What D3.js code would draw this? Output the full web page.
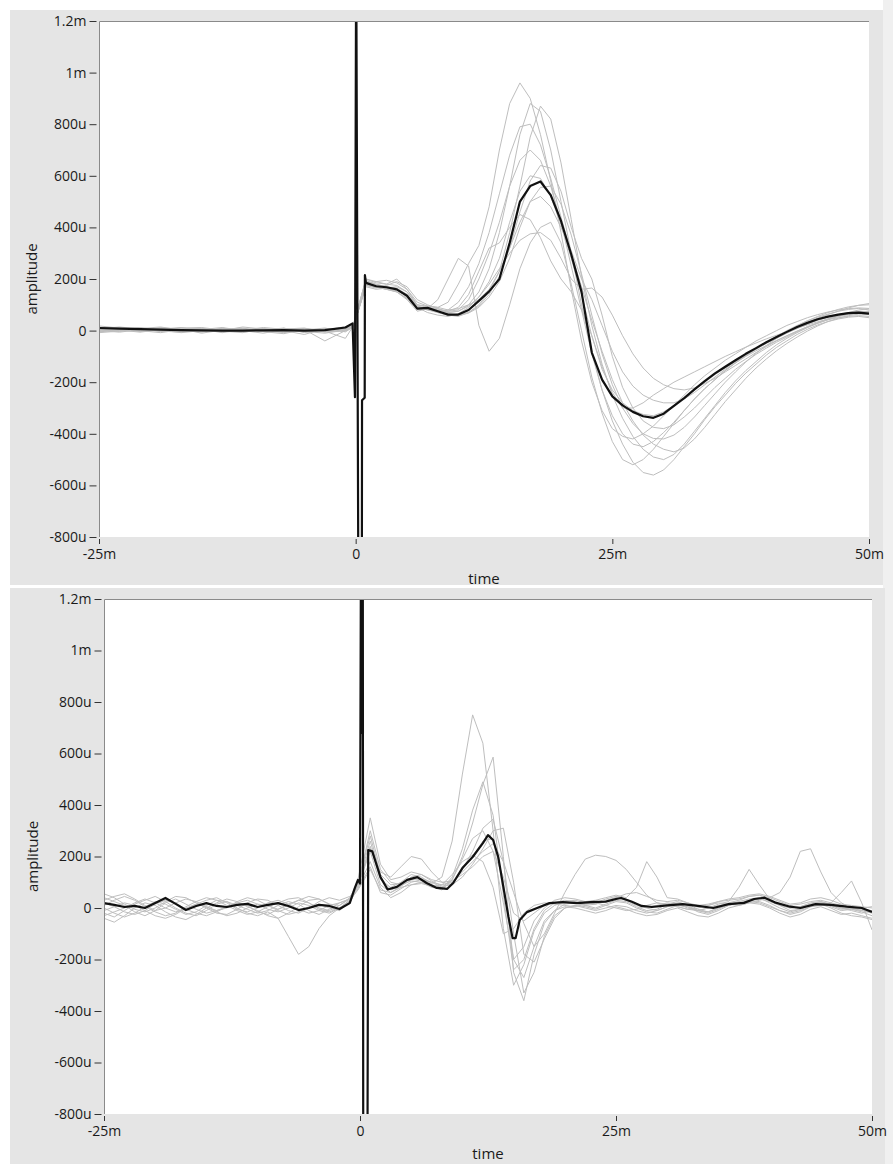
<!DOCTYPE html>
<html lang="en">
<head>
<meta charset="UTF-8">
<script src="https://d3js.org/d3.v7.min.js"></script>
<style>
  body { margin: 0; background: #fff; }
  svg text { font-family: "Open Sans", sans-serif; font-size: 14px; fill: #1a1a1a; }
  svg text.title { font-size: 15px; }
</style>
</head>
<body>
<script>
// ---- data (time in ms, amplitude in uV) ----
const yTicks = [-800, -600, -400, -200, 0, 200, 400, 600, 800, 1000, 1200];
const xTicks = [-25, 0, 25, 50];

// top panel: shared time grid of the single sweeps
const topGrid = [-25,-23,-21,-19,-17,-15,-13,-11,-9,-7,-5,-3,-1,-0.2,
  1,2,3,4,5,6,7,8,9,10,11,12,13,14,15,16,17,18,19,20,21,22,23,24,25,
  26,27,28,29,30,31,32,33,34,35,36,37,38,39,40,41,42,43,44,45,46,47,48,49,50];

const topSweepA = [12,8,3,10,-2,5,-8,4,-3,9,-6,2,15,25,
  200,185,180,175,150,100,95,90,110,180, 260,330,480,700,880,960,900,760,580,380,
  160,-40,-200,-310,-380,-410,-420,-400,-370,-330, -290,-250,-210,-175,-145,-115,-90,-65,-40,-20,
  0,20,35,50,62,72,80,85,88,86];
const topSweepB = [-5,3,10,0,6,-10,2,8,-4,-12,5,-2,-30,20,
  175,165,175,190,170,120,100,85,70,75, 100,150,240,380,560,760,880,850,700,500,
  300,100,-80,-230,-350,-440,-510,-550,-560,-540, -500,-450,-400,-345,-295,-250,-205,-165,-130,-95,
  -65,-40,-15,5,22,35,45,52,55,50];
const topSweepC = [5,-3,8,14,2,-6,10,-2,6,0,-15,8,4,22,
  190,180,170,165,140,90,80,70,60,55, 70,100,150,230,380,560,750,870,820,650,
  430,210,20,-130,-250,-340,-410,-460,-490,-500, -480,-440,-390,-340,-290,-240,-195,-155,-120,-85,
  -55,-30,-8,12,30,45,58,68,72,70];
const topSweepD = [18,10,-4,6,12,-2,0,14,6,-8,2,10,-5,15,
  180,175,165,150,125,80,90,85,75,80, 120,200,300,420,560,660,700,660,560,420,
  250,80,-90,-230,-330,-400,-440,-450,-430,-395, -355,-310,-265,-225,-190,-155,-125,-95,-70,-45,
  -22,0,20,38,52,64,75,82,86,80];
const topSweepE = [-2,6,0,-8,4,10,-4,2,12,5,-3,-10,2,18,
  170,160,165,170,150,95,85,75,65,60, 70,95,140,210,320,460,580,640,630,540,
  400,280,200,60,-100,-220,-300,-350,-375,-380, -365,-335,-300,-260,-220,-185,-150,-120,-92,-68,
  -45,-25,-5,12,28,42,55,65,72,75];
const topSweepF = [8,14,6,-2,-6,4,12,0,-10,4,8,0,10,28,
  195,178,170,160,130,85,90,80,70,75, 95,130,190,280,420,540,600,590,520,410,
  280,140,-20,-150,-230,-280,-310,-325,-330,-315, -290,-260,-230,-200,-170,-145,-120,-95,-72,-50,
  -30,-10,8,25,40,52,62,70,75,74];
const topSweepG = [0,-6,4,8,-4,2,6,-6,2,10,-8,4,6,20,
  185,190,195,185,160,110,95,90,80,85, 100,120,160,230,320,420,500,520,480,400,
  310,200,120,20,-80,-160,-215,-250,-270,-280, -280,-265,-240,-210,-180,-150,-125,-100,-78,-58,
  -38,-20,-2,15,30,45,58,70,80,85];
const topSweepH = [10,2,-6,4,10,6,-2,-8,8,2,4,-40,0,18,
  175,170,160,150,120,75,85,120,200,280, 250,20,-80,-30,100,240,340,400,420,340,
  180,0,-180,-320,-430,-500,-520,-500,-460,-410, -360,-310,-265,-225,-190,-155,-125,-98,-72,-48,
  -25,-5,15,32,48,62,75,88,98,105];
const topSweepI = [-4,8,12,2,-8,0,4,10,-4,-6,6,2,12,24,
  190,170,160,150,125,90,70,60,55,65, 90,130,180,240,300,350,375,380,350,280,
  200,160,165,130,60,-20,-90,-145,-185,-210, -225,-230,-222,-205,-185,-160,-135,-110,-85,-62,
  -40,-20,-2,15,30,42,50,55,58,55];
const topSweepJ = [6,0,-2,12,4,-4,8,2,-2,6,10,-6,8,22,
  200,190,180,200,160,100,90,80,75,90, 140,230,320,340,400,450,430,360,270,200,
  150,80,-20,-140,-240,-300,-300,-280,-250,-225, -200,-180,-160,-140,-120,-100,-82,-64,-48,-32,
  -18,-4,10,22,34,45,55,62,66,65];
const topSweepK = [2,10,6,-4,0,8,-6,6,4,-2,0,6,3,16,
  180,172,168,160,140,95,80,75,80,110, 170,260,380,530,680,790,800,720,590,440,
  300,170,40,-80,-190,-280,-350,-405,-440,-460, -470,-455,-420,-375,-325,-275,-230,-185,-145,-110,
  -78,-50,-25,-2,18,35,48,58,64,62];
const topSweepL = [-8,-2,6,0,10,12,2,-4,0,8,4,-4,-2,14,
  178,168,160,155,135,90,85,70,60,58, 68,90,130,190,280,400,500,555,560,490,
  370,220,60,-90,-210,-300,-360,-400,-418,-420, -405,-375,-335,-290,-245,-200,-160,-122,-88,-58,
  -30,-5,18,38,55,70,82,92,98,100];

// top panel: averaged trace (with stimulus artefact)
const topMeanTime = [-25,-23,-21,-19,-17,-15,-13,-11,-9,-7,-5,-3,-1,-0.3,
  -0.07,0.05,0.27,0.6,0.62,0.88,0.9,
  1,2,3,4,5,6,7,8,9,10,11,12,13,14,15,16,17,18,19,20,21,22,23,24,25,
  26,27,28,29,30,31,32,33,34,35,36,37,38,39,40,41,42,43,44,45,46,47,48,49,50];
const topMean = [10,8,6,4,2,1,0,0,1,2,0,2,12,28,
  -258,1500,-1100,-1100,-270,-260,215,
  185,172,168,160,135,85,88,75,62,62, 80,115,152,200,340,500,560,578,525,425,
  295,150,-85,-190,-255,-290,-315,-332,-338,-322, -292,-262,-228,-196,-166,-140,-115,-90,-68,-45,
  -25,-5,14,30,44,54,62,68,70,66];

// bottom panel: shared time grid of the single sweeps
const bottomGrid = [-25,-24,-23,-22,-21,-20,-19,-18,-17,-16,-15,-14,-13,-12,-11,-10,
  -9,-8,-7,-6,-5,-4,-3,-2,-1,-0.2,
  1,2,3,4,5,6,7,8,9,10,11,12,13,14,15,16,17,18,19,20,21,22,23,24,25,
  26,27,28,29,30,31,32,33,34,35,36,37,38,39,40,41,42,43,44,45,46,47,48,49,50];

const botSweepA = [40,25,10,-15,-30,-10,20,35,15,-5,-20,-10,5,20,10,-15,-25,-5,15,30,20,0,-10,10,40,90,
  240,110,80,100,130,120,95,120,260,520, 750,640,300,-80,-300,-220,-90,-20,10,25,
  30,20,15,30,40,30,10,0,-10,5, 20,15,-5,-15,0,20,30,45,50,30, 10,-10,-5,10,20,5,-10,-5,-15,-30];
const botSweepB = [-20,-35,-10,15,30,45,25,0,-20,-30,-10,15,25,10,-5,-20,-10,10,25,15,-10,-25,-5,20,35,100,
  280,130,90,95,115,110,90,80,110,200, 330,480,586,200,-250,-360,-180,-60,-10,15,
  20,10,0,15,30,25,5,-10,-5,15, 25,10,-10,-20,-5,15,25,35,40,20, 0,-15,-5,15,25,10,-5,0,-10,-20];
const botSweepC = [10,30,45,30,5,-15,-30,-20,5,25,40,30,10,-10,-25,-15,5,20,35,40,20,-5,-15,0,25,95,
  300,150,100,90,105,100,80,75,120,230, 380,490,360,50,-240,-200,-80,-10,20,30,
  25,15,20,35,45,35,15,5,10,20, 15,0,-10,0,15,25,80,150,90,35, 15,0,5,20,25,15,0,-10,-20,-10];
const botSweepD = [-40,-55,-30,0,20,10,-15,-35,-45,-25,0,20,35,25,5,-10,-30,-40,-20,5,30,35,15,-5,20,85,
  220,90,60,85,120,130,105,85,90,150, 220,310,345,180,-100,-330,-250,-110,-30,0,
  10,5,-5,10,25,20,0,-15,-20,-5, 10,5,-15,-25,-10,10,20,30,25,10, -10,-25,-15,5,15,0,-20,-30,-35,-45];
const botSweepE = [55,40,15,-5,-15,0,25,45,40,20,0,-20,-25,-5,20,35,30,10,-10,-20,0,25,40,30,45,80,
  180,80,40,60,90,100,85,70,110,190, 270,300,220,20,-200,-150,-50,0,30,40,
  35,25,30,40,50,40,80,180,120,40, 35,20,5,10,25,35,40,50,55,45, 30,15,20,35,40,30,15,10,5,0];
const botSweepF = [-10,5,20,10,-10,-30,-40,-25,0,15,5,-15,-30,-20,0,15,10,-10,-25,-15,5,15,0,-10,25,75,
  160,60,50,75,100,110,100,90,100,140, 180,220,250,180,60,-60,-150,-100,-20,60,
  130,190,205,200,185,150,100,50,20,10, 5,-5,-10,0,10,15,20,30,35,25, 10,0,5,15,20,10,0,-5,-10,-15];
const botSweepG = [20,5,-15,-25,-10,15,30,20,-5,-20,-30,-15,5,20,30,15,-5,-15,0,20,10,-10,-20,0,30,70,
  150,70,60,80,90,95,85,90,130,180, 205,180,80,-100,-80,-20,10,20,15,10,
  5,15,20,10,0,-10,-5,10,20,15, 5,-5,0,10,20,15,10,20,30,40, 60,120,220,230,140,60,20,0,-5,-10];
const botSweepH = [0,-20,-35,-20,5,25,15,-5,-25,-15,10,30,25,0,-20,-30,-15,-40,-110,-180,-150,-80,-30,0,30,95,
  260,120,70,85,110,115,100,80,95,150, 200,260,270,100,-200,-270,-150,-50,-10,5,
  0,-10,-20,-10,5,-5,-20,-30,-25,-10, 0,-15,-30,-35,-20,0,10,20,15,0, -20,-35,-25,-5,5,-10,-25,-20,-30,-40];
const botSweepI = [30,45,55,35,10,-10,0,20,35,25,5,-10,0,25,40,30,10,-5,10,30,45,35,15,10,35,110,
  350,170,110,120,140,130,110,100,105,130, 160,200,220,120,-20,-50,-20,10,20,25,
  20,10,15,25,40,55,60,45,30,25, 30,20,10,15,25,30,35,45,50,40, 25,10,15,25,30,20,10,5,0,5];
const botSweepJ = [-30,-15,0,20,35,20,0,-15,-5,15,30,40,20,-5,-15,0,20,30,15,-5,-20,-10,10,20,35,90,
  230,140,120,160,200,190,140,100,90,120, 170,230,300,310,100,-180,-210,-120,-40,0,
  10,0,-10,0,10,5,-10,-20,-10,5, 15,5,-10,-15,0,10,20,25,20,5, -10,-20,-10,5,10,20,60,105,20,-85];

// bottom panel: averaged trace (with stimulus artefact)
const bottomMeanTime = [-25,-24,-23,-22,-21,-20,-19,-18,-17,-16,-15,-14,-13,-12,-11,-10,
  -9,-8,-7,-6,-5,-4,-3,-2,-1,-0.5,-0.2,
  0,0.1,0.2,0.27,0.32,0.72,0.8,
  1.2,2,2.7,3.6,4.6,5.6,6.5,7.5,8.5,9.1,10,11,12,12.5,13,13.5,14,14.5,14.9,15.2,15.6,16.3,17.3,
  18.5,19.8,21.2,22.5,24,25,25.5,26.5,27.5,28.5,30,31.5,33,34.5,36,37.5,38.5,39.5,40.5,42,43,
  44.5,46,47.5,49,50];
const bottomMean = [19,12,4,8,0,19,39,16,-8,8,19,8,4,12,16,4,
  12,19,8,-8,0,12,8,-4,19,78,109,
  95,1500,680,1500,-1100,-1100,225,
  220,120,72,82,109,120,97,78,74,97,155,198,252,283,264,198,82,-35,-117,-117,-47,-16,0,
  19,23,19,23,25,35,39,25,8,4,10,15,8,0,15,20,35,40,22,5,0,
  15,12,5,0,-15];

const topSweeps = [topSweepA, topSweepB, topSweepC, topSweepD, topSweepE, topSweepF,
  topSweepG, topSweepH, topSweepI, topSweepJ, topSweepK, topSweepL];
const bottomSweeps = [botSweepA, botSweepB, botSweepC, botSweepD, botSweepE,
  botSweepF, botSweepG, botSweepH, botSweepI, botSweepJ];

// ---- layout ----
const W = 893, H = 1164;
const panels = [
  { box: [10, 10, 873, 575], l: 99, r: 869, t: 21, b: 537, timeY: 584, ampX: 37,
    grid: topGrid, sweeps: topSweeps, meanT: topMeanTime, mean: topMean },
  { box: [10, 588, 875, 576], l: 104, r: 872, t: 599, b: 1114, timeY: 1159, ampX: 38,
    grid: bottomGrid, sweeps: bottomSweeps, meanT: bottomMeanTime, mean: bottomMean }
];

const fmtY = v => v === 0 ? "0" : (Math.abs(v) >= 1000 ? (v / 1000) + "m" : v + "u");
const fmtX = v => v === 0 ? "0" : v + "m";

const svg = d3.select("body").append("svg")
  .attr("width", W).attr("height", H);

svg.append("rect").attr("x", 883).attr("y", 0).attr("width", 10).attr("height", H)
  .attr("fill", "#f0f0f0");

panels.forEach((p, i) => {
  svg.append("rect")
    .attr("x", p.box[0]).attr("y", p.box[1])
    .attr("width", p.box[2]).attr("height", p.box[3])
    .attr("fill", "#e5e5e5");

  const x = d3.scaleLinear().domain([-25, 50]).range([p.l, p.r]);
  const y = d3.scaleLinear().domain([-800, 1200]).range([p.b, p.t]);

  svg.append("rect")
    .attr("x", p.l).attr("y", p.t)
    .attr("width", p.r - p.l).attr("height", p.b - p.t)
    .attr("fill", "#fff");

  svg.append("clipPath").attr("id", "clip" + i)
    .append("rect")
    .attr("x", p.l).attr("y", p.t)
    .attr("width", p.r - p.l).attr("height", p.b - p.t);

  const plot = svg.append("g").attr("clip-path", `url(#clip${i})`);

  const line = d3.line().x(d => x(d[0])).y(d => y(d[1]));

  plot.selectAll(".sweep")
    .data(p.sweeps)
    .enter().append("path")
    .attr("class", "sweep")
    .attr("d", s => line(s.map((v, k) => [p.grid[k], v])))
    .attr("fill", "none")
    .attr("stroke", "#bebebe")
    .attr("stroke-width", 1);

  plot.append("path")
    .attr("d", line(p.mean.map((v, k) => [p.meanT[k], v])))
    .attr("fill", "none")
    .attr("stroke", "#111")
    .attr("stroke-width", 2.2)
    .attr("stroke-linejoin", "round");

  // frame: top and left edges only
  svg.append("path")
    .attr("d", `M${p.l + 0.5},${p.b}V${p.t + 0.5}H${p.r}`)
    .attr("fill", "none")
    .attr("stroke", "#8a8a8a");

  const yAxis = d3.axisLeft(y).tickValues(yTicks).tickFormat(fmtY)
    .tickSize(7).tickPadding(3);
  const gy = svg.append("g").attr("transform", `translate(${p.l - 2.5},0)`).call(yAxis);
  gy.select(".domain").remove();
  gy.selectAll(".tick line").attr("stroke", "#333");
  gy.selectAll(".tick text").attr("font-family", null).attr("font-size", null);

  const xAxis = d3.axisBottom(x).tickValues(xTicks).tickFormat(fmtX)
    .tickSize(5).tickPadding(5);
  const gx = svg.append("g").attr("transform", `translate(0,${p.b + 2})`).call(xAxis);
  gx.select(".domain").remove();
  gx.selectAll(".tick line").attr("stroke", "#333");
  gx.selectAll(".tick text").attr("font-family", null).attr("font-size", null);

  svg.append("text")
    .attr("class", "title")
    .attr("x", (p.l + p.r) / 2).attr("y", p.timeY)
    .attr("text-anchor", "middle")
    .text("time");

  svg.append("text")
    .attr("class", "title")
    .attr("transform", `translate(${p.ampX},${(p.t + p.b) / 2}) rotate(-90)`)
    .attr("text-anchor", "middle")
    .text("amplitude");
});
</script>
</body>
</html>
